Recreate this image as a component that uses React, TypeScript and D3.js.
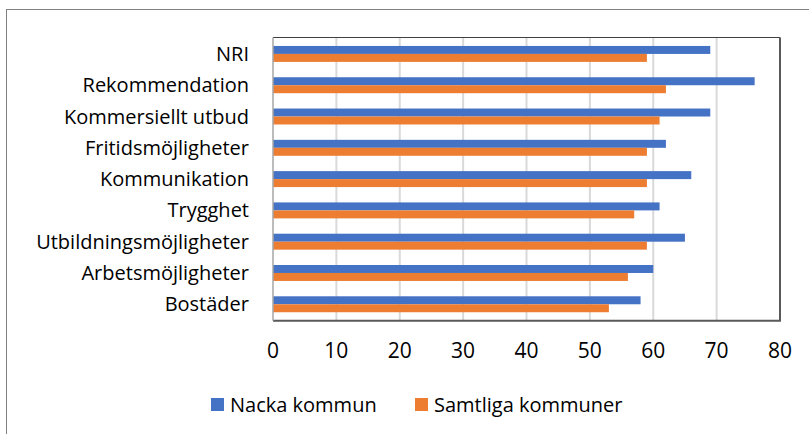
import React, { useEffect, useRef } from 'react';
import * as d3 from 'd3';

const categories = [
    "NRI",
    "Rekommendation",
    "Kommersiellt utbud",
    "Fritidsmöjligheter",
    "Kommunikation",
    "Trygghet",
    "Utbildningsmöjligheter",
    "Arbetsmöjligheter",
    "Bostäder",
];
const nackaValues = [69, 76, 69, 62, 66, 61, 65, 60, 58];
const samtligaValues = [59, 62, 61, 59, 59, 57, 59, 56, 53];
const seriesNames = ["Nacka kommun", "Samtliga kommuner"];
const seriesColors = ["#4472C4", "#ED7D31"];
const xTicks = [0, 10, 20, 30, 40, 50, 60, 70, 80];

const font = "'Open Sans', 'Noto Sans', sans-serif";

export default function App() {
    const svgRef = useRef<SVGSVGElement | null>(null);

    const width = 809;
    const height = 434;
    const plot = { left: 273, right: 780, top: 37.5, bottom: 320.7 };

    useEffect(() => {
        if (!svgRef.current) return;
        const svg = d3.select(svgRef.current);
        svg.selectAll("*").remove();

        // outer chart border (runs off the right/bottom edge)
        svg.append("rect")
            .attr("x", 6.5).attr("y", 9.5)
            .attr("width", width + 10).attr("height", height + 10)
            .attr("fill", "#fff")
            .attr("stroke", "#808080")
            .attr("stroke-width", 1);

        const xScale = d3.scaleLinear()
            .domain([0, 80])
            .range([plot.left, plot.right]);

        const yScale = d3.scaleBand<string>()
            .domain(categories)
            .range([plot.top, plot.bottom])
            .paddingInner(0.49)
            .paddingOuter(0.27);

        const inner = d3.scaleBand<number>()
            .domain([0, 1])
            .range([0, yScale.bandwidth()]);

        // gridlines
        svg.append("g")
            .selectAll("line")
            .data(xTicks.slice(1))
            .join("line")
            .attr("x1", d => xScale(d)).attr("x2", d => xScale(d))
            .attr("y1", plot.top).attr("y2", plot.bottom)
            .attr("stroke", "#d9d9d9")
            .attr("stroke-width", 2);

        // bars
        const rows = categories.map((c, i) => ({ cat: c, vals: [nackaValues[i], samtligaValues[i]] }));
        const groups = svg.append("g")
            .selectAll("g")
            .data(rows)
            .join("g")
            .attr("transform", d => `translate(0, ${yScale(d.cat)})`);

        groups.selectAll("rect")
            .data(d => d.vals.map((v, k) => ({ v, k })))
            .join("rect")
            .attr("x", xScale(0))
            .attr("y", d => inner(d.k)!)
            .attr("width", d => xScale(d.v) - xScale(0))
            .attr("height", inner.bandwidth())
            .attr("fill", d => seriesColors[d.k]);

        // plot area border
        svg.append("line")
            .attr("x1", plot.left).attr("x2", plot.right)
            .attr("y1", plot.top).attr("y2", plot.top)
            .attr("stroke", "#404040").attr("stroke-width", 1);
        svg.append("line")
            .attr("x1", plot.right).attr("x2", plot.right)
            .attr("y1", plot.top).attr("y2", plot.bottom)
            .attr("stroke", "#595959").attr("stroke-width", 2);
        svg.append("line")
            .attr("x1", plot.left).attr("x2", plot.right + 1)
            .attr("y1", plot.bottom).attr("y2", plot.bottom)
            .attr("stroke", "#595959").attr("stroke-width", 2);
        svg.append("line")
            .attr("x1", plot.left).attr("x2", plot.left)
            .attr("y1", plot.top).attr("y2", plot.bottom)
            .attr("stroke", "#a6a6a6").attr("stroke-width", 1.5);

        // category labels
        svg.append("g")
            .selectAll("text")
            .data(categories)
            .join("text")
            .attr("x", 249)
            .attr("y", d => yScale(d)! + yScale.bandwidth() / 2)
            .attr("dy", "0.35em")
            .attr("text-anchor", "end")
            .style("font-family", font)
            .style("font-size", "20px")
            .attr("fill", "#000")
            .text(d => d);

        // x tick labels
        svg.append("g")
            .selectAll("text")
            .data(xTicks)
            .join("text")
            .attr("x", d => xScale(d))
            .attr("y", 351)
            .attr("dy", "0.35em")
            .attr("text-anchor", "middle")
            .style("font-family", font)
            .style("font-size", "21px")
            .attr("fill", "#000")
            .text(d => d);

        // legend
        const legendX = [211, 415];
        const legend = svg.append("g")
            .selectAll("g")
            .data(seriesNames)
            .join("g")
            .attr("transform", (d, i) => `translate(${legendX[i]}, 398)`);
        legend.append("rect")
            .attr("width", 13).attr("height", 13)
            .attr("fill", (d, i) => seriesColors[i]);
        legend.append("text")
            .attr("x", 19)
            .attr("y", 7)
            .attr("dy", "0.35em")
            .style("font-family", font)
            .style("font-size", "20px")
            .attr("fill", "#000")
            .text(d => d);
    }, []);

    return (
        <svg
            ref={svgRef}
            width={width}
            height={height}
            style={{ position: "absolute", left: 0, top: 0, background: "#fff" }}
        ></svg>
    );
}
